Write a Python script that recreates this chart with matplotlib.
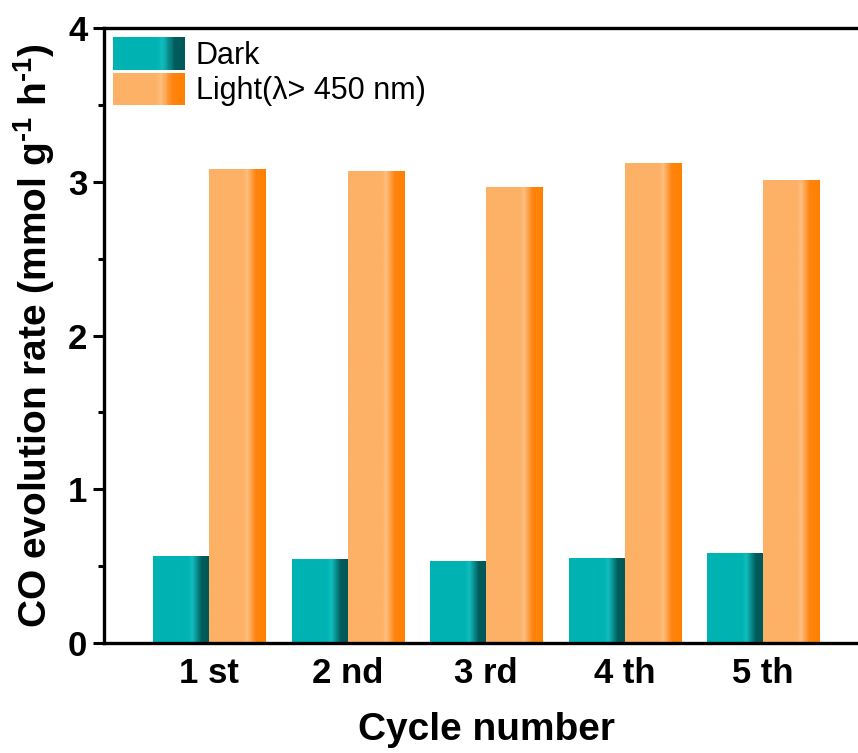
import numpy as np
import matplotlib
matplotlib.use("Agg")
import matplotlib.pyplot as plt
from matplotlib.colors import LinearSegmentedColormap
from matplotlib.legend_handler import HandlerBase
from matplotlib.patches import Rectangle, Patch

plt.rcParams['font.family'] = ['Liberation Sans', 'DejaVu Sans']
plt.rcParams['mathtext.fontset'] = 'custom'
plt.rcParams['mathtext.rm'] = 'Liberation Sans:bold'
plt.rcParams['mathtext.bf'] = 'Liberation Sans:bold'

# data
cycles = ['1 st', '2 nd', '3 rd', '4 th', '5 th']
dark = [0.565, 0.545, 0.53, 0.55, 0.585]
light = [3.078, 3.065, 2.965, 3.118, 3.005]

# gradient colormaps (flat base, light highlight band, darker right edge)
teal_cmap = LinearSegmentedColormap.from_list(
    'teal', [(0.0, '#00B3B3'), (0.62, '#00B3B3'), (0.69, '#12BEBE'),
             (0.86, '#005C5C'), (1.0, '#005858')])
orange_cmap = LinearSegmentedColormap.from_list(
    'orange', [(0.0, '#FDB166'), (0.60, '#FDB166'), (0.67, '#FDBF80'),
               (0.82, '#FF8410'), (1.0, '#FF8000')])

grad = np.linspace(0, 1, 256).reshape(1, -1)


class GradientHandler(HandlerBase):
    def __init__(self, cmap, n=60):
        super().__init__()
        self.cmap = cmap
        self.n = n

    def create_artists(self, legend, orig_handle, xdescent, ydescent,
                       width, height, fontsize, trans):
        arts = []
        w = width / self.n
        for i in range(self.n):
            c = self.cmap((i + 0.5) / self.n)
            r = Rectangle((-xdescent + i * w, -ydescent), w * 1.02, height,
                          facecolor=c, edgecolor='none', transform=trans)
            arts.append(r)
        return arts


fig = plt.figure(figsize=(8.58, 7.53), dpi=100)
ax = fig.add_axes([0.1212, 0.146, 0.891, 0.8167])

x = np.arange(1, len(cycles) + 1)
bw = 0.405
bars_d = ax.bar(x - bw / 2, dark, bw, color='none', edgecolor='none')
bars_l = ax.bar(x + bw / 2, light, bw, color='none', edgecolor='none')

for bars, cmap in [(bars_d, teal_cmap), (bars_l, orange_cmap)]:
    for b in bars:
        x0, y0 = b.get_xy()
        ax.imshow(grad, extent=[x0, x0 + b.get_width(), y0, y0 + b.get_height()],
                  aspect='auto', cmap=cmap, interpolation='bilinear', zorder=2)

ax.set_xlim(0.24, 5.76)
ax.set_ylim(0, 4)

ax.set_xticks(x)
ax.set_xticklabels(cycles, fontsize=25, fontweight='bold')
ax.tick_params(axis='x', length=0, pad=10)
ax.set_yticks([0, 1, 2, 3, 4])
ax.set_yticks([0.5, 1.5, 2.5, 3.5], minor=True)
ax.tick_params(axis='y', which='major', direction='out', length=8, width=2.2,
               labelsize=25, pad=4)
ax.tick_params(axis='y', which='minor', direction='out', length=4, width=2.2)
for lab in ax.get_yticklabels():
    lab.set_fontweight('bold')

for s in ['left', 'bottom', 'top']:
    ax.spines[s].set_linewidth(2.4)
ax.spines['right'].set_visible(False)

ax.set_xlabel('Cycle number', fontsize=28, fontweight='bold', labelpad=16)
ax.set_ylabel(r'CO evolution rate (mmol g$^{\text{-1}}$ h$^{\text{-1}}$)',
              fontsize=28, fontweight='bold', labelpad=8)

h_dark = Patch(label='Dark')
h_light = Patch(label='Light(λ> 450 nm)')
ax.legend(handles=[h_dark, h_light], loc='upper left', frameon=False,
          fontsize=22, handlelength=2.35, handleheight=1.25,
          labelspacing=0.06, handletextpad=0.35, borderaxespad=0.2,
          borderpad=0.1,
          handler_map={h_dark: GradientHandler(teal_cmap),
                       h_light: GradientHandler(orange_cmap)})

plt.savefig('out.png', dpi=100)
